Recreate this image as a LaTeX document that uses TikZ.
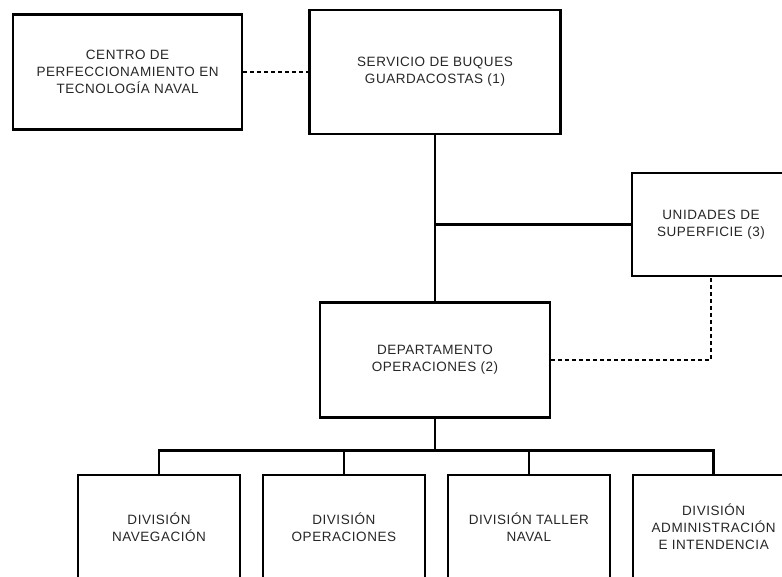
\documentclass[tikz,border=0pt]{standalone}
\usepackage{fontspec}
\setmainfont{Liberation Sans}[LetterSpace=4]
\usetikzlibrary{positioning}

\begin{document}
\begin{tikzpicture}[x=1pt, y=-1pt,
  main/.style = {draw, rectangle, line width=2.4pt, align=center, inner sep=0pt,
    text=black!85, font=\fontsize{13.5}{17}\selectfont},
  link/.style = {line width=2.6pt},
  dots/.style = {line width=2.6pt, dash pattern=on 4pt off 3pt}]
\clip (0,0) rectangle (782,577);
\node[main, minimum width=251pt, minimum height=124pt] (serv) at (435,72) {SERVICIO DE BUQUES\\GUARDACOSTAS (1)};
\node[main, minimum width=229pt, minimum height=115pt] (cent) [left=65pt of serv] {CENTRO DE\\PERFECCIONAMIENTO EN\\TECNOLOGÍA NAVAL};
\node[main, minimum width=230pt, minimum height=115pt] (dept) [below=166pt of serv] {DEPARTAMENTO\\OPERACIONES (2)};
\node[main, minimum width=158pt, minimum height=103pt] (unid) at (711,224.5) {UNIDADES DE\\SUPERFICIE (3)};
\node[main, minimum width=162pt, minimum height=104pt] (d1) at (159,527) {DIVISIÓN\\NAVEGACIÓN};
\node[main, minimum width=162pt, minimum height=104pt] (d2) [right=20.5pt of d1] {DIVISIÓN\\OPERACIONES};
\node[main, minimum width=162pt, minimum height=104pt] (d3) [right=20.5pt of d2] {DIVISIÓN TALLER\\NAVAL};
\node[main, minimum width=162pt, minimum height=104pt] (d4) [right=20.5pt of d3] {DIVISIÓN\\ADMINISTRACIÓN\\E INTENDENCIA};
% dotted links
\draw[dots] (cent) -- (serv);
\draw[dots] (dept.east) -| (unid.south);
% solid links
\draw[link] (serv) -- (dept);
\draw[link] (unid.west) -- (unid.west -| serv.south);
\coordinate (bus) at ([yshift=-32pt]dept.south);
\draw[link] (dept.south) -- (bus);
\draw[link] (d1.north) |- (bus) -| (d4.north);
\draw[link] (d2.north) -- (d2.north |- bus);
\draw[link] (d3.north) -- (d3.north |- bus);
\end{tikzpicture}
\end{document}
